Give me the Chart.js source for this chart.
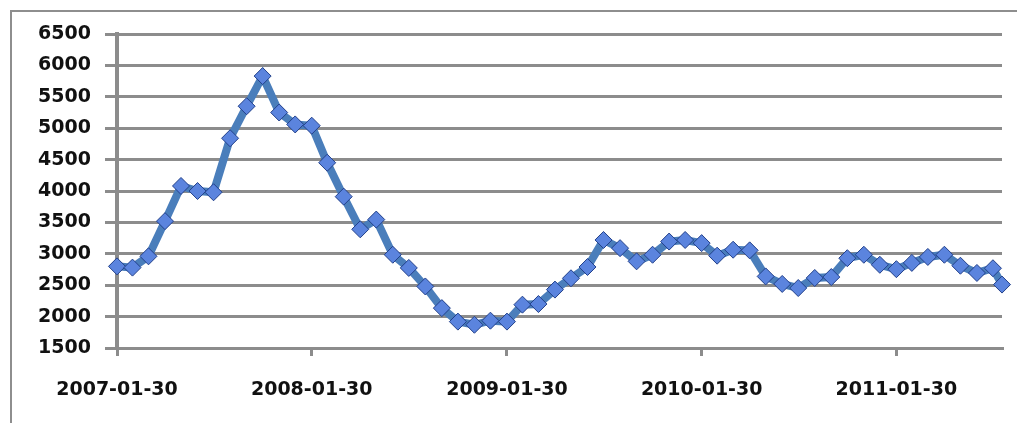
<!DOCTYPE html>
<html>
<head>
<meta charset="utf-8">
<title>Price series 2007-2011</title>
<script src="https://cdn.jsdelivr.net/npm/chart.js@4.4.0/dist/chart.umd.min.js"></script>
<style>
  html, body { margin: 0; padding: 0; background: #fff; overflow: hidden; }
  #wrap { position: relative; width: 1017px; height: 423px; }
</style>
</head>
<body>
<div id="wrap"><canvas id="c" width="1017" height="423"></canvas></div>
<script>
// Observation dates (monthly, plus one mid-month reading at the end)
const dates = [
  '2007-01-30','2007-02-28','2007-03-30','2007-04-30','2007-05-30','2007-06-30',
  '2007-07-30','2007-08-30','2007-09-30','2007-10-30','2007-11-30','2007-12-30',
  '2008-01-30','2008-02-28','2008-03-30','2008-04-30','2008-05-30','2008-06-30',
  '2008-07-30','2008-08-30','2008-09-30','2008-10-30','2008-11-30','2008-12-30',
  '2009-01-30','2009-02-28','2009-03-30','2009-04-30','2009-05-30','2009-06-30',
  '2009-07-30','2009-08-30','2009-09-30','2009-10-30','2009-11-30','2009-12-30',
  '2010-01-30','2010-02-28','2010-03-30','2010-04-30','2010-05-30','2010-06-30',
  '2010-07-30','2010-08-30','2010-09-30','2010-10-30','2010-11-30','2010-12-30',
  '2011-01-30','2011-02-28','2011-03-30','2011-04-30','2011-05-30','2011-06-30',
  '2011-07-30','2011-08-16'
];

// Price at each date
const prices = [
  2800, 2780, 2960, 3520, 4080, 4000, 3980, 4840, 5350, 5830, 5250, 5060,
  5040, 4450, 3910, 3390, 3545, 2985, 2775, 2480, 2135, 1920, 1870, 1935,
  1920, 2190, 2200, 2430, 2610, 2790, 3220, 3090, 2880, 2985, 3195, 3220,
  3170, 2970, 3065, 3055, 2640, 2520, 2455, 2615, 2630, 2930, 2985, 2825,
  2755, 2855, 2950, 2985, 2810, 2695, 2770, 2510
];

// Labelled positions on the date axis
const tickLabels = ['2007-01-30', '2008-01-30', '2009-01-30', '2010-01-30', '2011-01-30'];

// Value axis range
const yMin = 1500;
const yMax = 6500;
const yStep = 500;

// Dates become day offsets from the first observation on a linear axis
const DAY_MS = 86400000;
const t0 = Date.parse(dates[0]);
const dayOf = s => Math.round((Date.parse(s) - t0) / DAY_MS);
const points = dates.map((d, i) => ({ x: dayOf(d), y: prices[i] }));
const tickDays = tickLabels.map(dayOf);

const GRID = '#8c8c8c';
const FONT = { family: 'DejaVu Sans', weight: 'bold', size: 19 };

// White background plus the grey outer frame (top and left edges)
const framePlugin = {
  id: 'frame',
  beforeDraw(chart) {
    const ctx = chart.ctx;
    ctx.save();
    ctx.fillStyle = '#ffffff';
    ctx.fillRect(0, 0, chart.width, chart.height);
    ctx.strokeStyle = '#8e8e8e';
    ctx.lineWidth = 2;
    ctx.beginPath();
    ctx.moveTo(11, chart.height);
    ctx.lineTo(11, 11);
    ctx.lineTo(chart.width, 11);
    ctx.stroke();
    ctx.restore();
  }
};

new Chart(document.getElementById('c'), {
  type: 'line',
  data: {
    datasets: [{
      data: points,
      borderColor: '#4a7ebb',
      borderWidth: 8,
      tension: 0,
      fill: false,
      clip: false,
      pointStyle: 'rectRot',
      pointRadius: 8.5,
      pointBackgroundColor: '#5b84de',
      pointBorderColor: '#22408a',
      pointBorderWidth: 1
    }]
  },
  options: {
    responsive: false,
    animation: false,
    devicePixelRatio: 1,
    layout: { padding: { top: 34, right: 15, left: 0, bottom: 0 } },
    plugins: {
      legend: { display: false },
      tooltip: { enabled: false }
    },
    scales: {
      x: {
        type: 'linear',
        min: 0,
        max: dayOf(dates[dates.length - 1]),
        afterBuildTicks: s => { s.ticks = tickDays.map(v => ({ value: v })); },
        afterFit: s => { s.height = 75; },
        ticks: {
          autoSkip: false,
          maxRotation: 0,
          padding: 23,
          color: '#111111',
          font: FONT,
          callback: v => { const k = tickDays.indexOf(v); return k >= 0 ? tickLabels[k] : ''; }
        },
        grid: { drawOnChartArea: false, drawTicks: true, tickLength: 8, color: GRID, lineWidth: 3 },
        border: { display: true, color: GRID, width: 3 }
      },
      y: {
        min: yMin,
        max: yMax,
        afterFit: s => { s.width = 117; },
        ticks: { stepSize: yStep, padding: 14, color: '#111111', font: FONT, callback: v => String(v) },
        grid: { color: GRID, lineWidth: 3, tickLength: 12 },
        border: { display: true, color: GRID, width: 4 }
      }
    }
  },
  plugins: [framePlugin]
});
</script>
</body>
</html>
